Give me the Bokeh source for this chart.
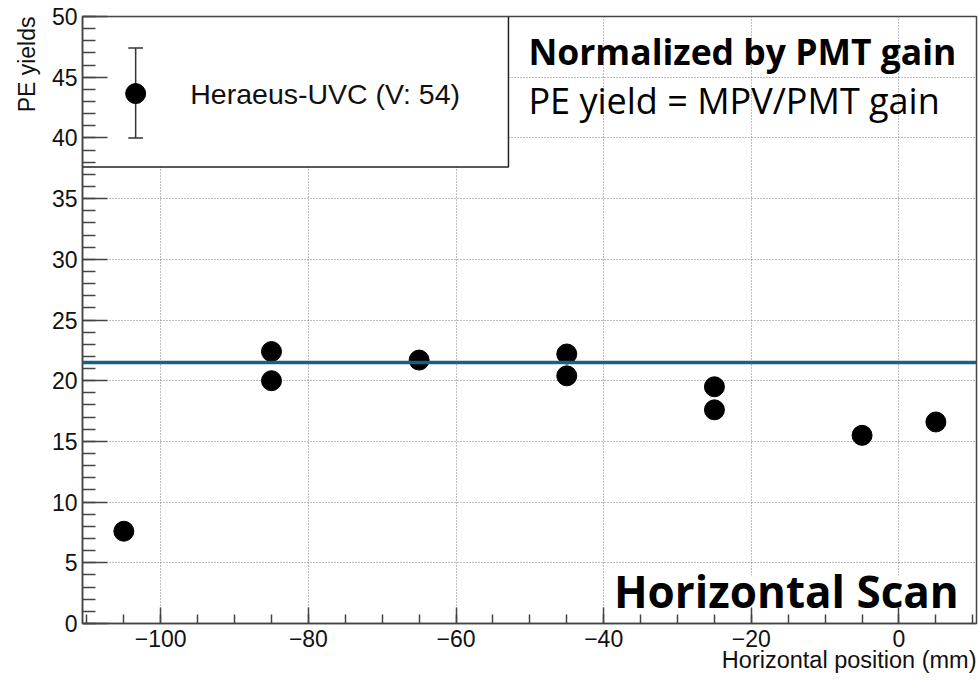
from bokeh.plotting import figure
from bokeh.models import Label, Span, SingleIntervalTicker, Range1d, ColumnDataSource, Title
from bokeh.embed import file_html
from bokeh.resources import INLINE

# ---- data ----
positions = [-105, -85, -85, -65, -45, -45, -25, -25, -5, 5]
pe_yields = [7.6, 22.4, 20.0, 21.7, 22.2, 20.4, 19.5, 17.6, 15.5, 16.6]
reference_level = 21.5
legend_label = "Heraeus-UVC (V: 54)"
x_ticks = [-100, -80, -60, -40, -20, 0]
x_tick_labels = ["\u2212100", "\u221280", "\u221260", "\u221240", "\u221220", "0"]
x_label = "Horizontal position (mm)"
y_label = "PE yields"
note_title = "Normalized by PMT gain"
note_body = "PE yield = MPV/PMT gain"
scan_label = "Horizontal Scan"

# ---- style / layout ----
X0, X1 = -110.6, 10.5
Y0, Y1 = 0, 50
AXC = "#444444"
TICK_FONT = "Liberation Sans"

p = figure(width=980, height=681, x_range=Range1d(X0, X1), y_range=Range1d(Y0, Y1),
           output_backend="svg", toolbar_location=None,
           min_border_left=82, min_border_right=4, min_border_top=16, min_border_bottom=58)
p.background_fill_color = "white"
p.border_fill_color = "white"
p.outline_line_color = AXC
p.outline_line_width = 1.5

p.xaxis.ticker = SingleIntervalTicker(interval=20, num_minor_ticks=4)
p.yaxis.ticker = SingleIntervalTicker(interval=5, num_minor_ticks=5)
p.xaxis.major_label_overrides = {t: l for t, l in zip(x_ticks, x_tick_labels)}

for ax in (p.xaxis, p.yaxis):
    ax.axis_line_color = AXC
    ax.axis_line_width = 1.5
    ax.major_tick_line_color = AXC
    ax.minor_tick_line_color = AXC
    ax.major_tick_line_width = 1.5
    ax.minor_tick_line_width = 1.5
    ax.major_tick_out = 0
    ax.minor_tick_out = 0
    ax.major_label_text_font = TICK_FONT
    ax.major_label_text_font_size = "23px"
    ax.major_label_text_color = "#111111"
p.yaxis.major_tick_in = 25
p.yaxis.minor_tick_in = 13
p.xaxis.major_tick_in = 16
p.xaxis.minor_tick_in = 9
p.yaxis.major_label_standoff = 5
p.xaxis.major_label_standoff = 6

# axis titles, right/top aligned like the original
p.add_layout(Title(text=x_label, align="right", text_font=TICK_FONT, text_font_size="23.5px",
                   text_font_style="normal", text_color="#111111", standoff=-9), "below")
p.add_layout(Title(text=y_label, align="right", text_font=TICK_FONT, text_font_size="23px",
                   text_font_style="normal", text_color="#111111", standoff=18), "left")

p.grid.grid_line_color = "#7a7a7a"
p.grid.grid_line_dash = "1 2"
p.grid.grid_line_width = 1

# reference level line
p.add_layout(Span(location=reference_level, dimension="width", line_color="#1b5f84", line_width=3.5))

# data points
src = ColumnDataSource(dict(x=positions, y=pe_yields))
p.scatter("x", "y", source=src, size=20, color="black")

# legend box (drawn manually to show the error-bar sample)
LEG_L, LEG_R, LEG_B, LEG_T = X0, -52.9, 37.6, Y1
p.quad(left=[LEG_L], right=[LEG_R], bottom=[LEG_B], top=[LEG_T],
       fill_color="white", line_color="#222222", line_width=1.5)
MX, MY, ELO, EHI, CAP = -103.4, 43.65, 40.0, 47.4, 1.0
p.segment(x0=[MX, MX - CAP, MX - CAP], y0=[ELO, ELO, EHI],
          x1=[MX, MX + CAP, MX + CAP], y1=[EHI, ELO, EHI],
          line_color="#333333", line_width=1.5)
p.scatter([MX], [MY], size=20, color="black")
p.add_layout(Label(x=-96.0, y=MY, text=legend_label, text_font=TICK_FONT,
                   text_font_size="28.5px", text_baseline="middle", text_color="#111111"))

# annotations (anchor = bottom of the text box)
p.add_layout(Label(x=-50.2, y=45.2, text=note_title, text_font="Open Sans",
                   text_font_style="bold", text_font_size="35.5px", text_color="black"))
p.add_layout(Label(x=-50.2, y=41.1, text=note_body, text_font="Open Sans",
                   text_font_size="36px", text_color="black"))
# white backing box behind the scan label
p.quad(left=[-38.8], right=[9.96], bottom=[0.98], top=[3.95],
       fill_color="white", line_color=None)
p.add_layout(Label(x=8.1, y=0.17, text=scan_label, text_font="Open Sans",
                   text_font_style="bold", text_font_size="44px", text_color="black",
                   text_align="right"))

open("out.html", "w").write(file_html(p, INLINE))
